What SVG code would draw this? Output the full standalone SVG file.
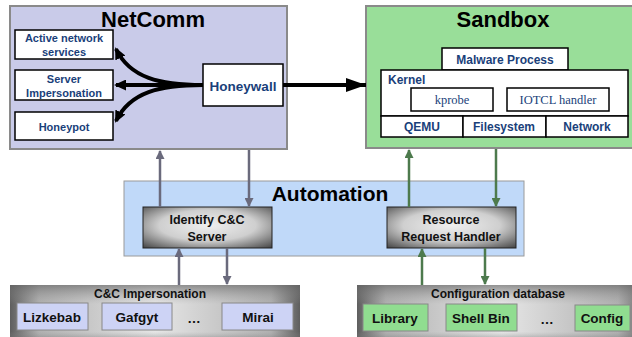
<svg xmlns="http://www.w3.org/2000/svg" width="632" height="337" viewBox="0 0 632 337">
<defs>
<radialGradient id="gbox" cx="0.5" cy="0.45" r="0.75">
<stop offset="0" stop-color="#efefef"/>
<stop offset="0.5" stop-color="#cfcfcf"/>
<stop offset="1" stop-color="#404040"/>
</radialGradient>
<linearGradient id="gpanelH" x1="0" y1="0" x2="1" y2="0">
<stop offset="0" stop-color="#5e5e5e"/>
<stop offset="0.1" stop-color="#b0b0b0"/>
<stop offset="0.5" stop-color="#e6e6e6"/>
<stop offset="0.9" stop-color="#b0b0b0"/>
<stop offset="1" stop-color="#5e5e5e"/>
</linearGradient>
<linearGradient id="gpanelV" x1="0" y1="0" x2="0" y2="1">
<stop offset="0" stop-color="#666" stop-opacity="0.65"/>
<stop offset="0.35" stop-color="#999" stop-opacity="0"/>
<stop offset="0.85" stop-color="#999" stop-opacity="0"/>
<stop offset="1" stop-color="#666" stop-opacity="0.5"/>
</linearGradient>
<marker id="ahB" markerUnits="userSpaceOnUse" markerWidth="12" markerHeight="11" refX="10" refY="5.5" orient="auto">
<path d="M0,0 L12,5.5 L0,11 z" fill="#000"/>
</marker>
<marker id="ahBig" markerUnits="userSpaceOnUse" markerWidth="20" markerHeight="14" refX="20" refY="7" orient="auto">
<path d="M0,0 L20,7 L0,14 z" fill="#000"/>
</marker>
<marker id="ahG" markerUnits="userSpaceOnUse" markerWidth="9" markerHeight="9" refX="8" refY="4.5" orient="auto">
<path d="M0,0 L9,4.5 L0,9 z" fill="#6a6a7c"/>
</marker>
<marker id="ahN" markerUnits="userSpaceOnUse" markerWidth="9" markerHeight="9" refX="8" refY="4.5" orient="auto">
<path d="M0,0 L9,4.5 L0,9 z" fill="#4d7a4d"/>
</marker>
</defs>
<style>
text{font-family:"Liberation Sans",Arial,sans-serif;font-weight:bold;text-anchor:middle}
.title{font-size:22px;fill:#000}
.bt{font-size:11px;fill:#1a3f7a}
.wb{fill:#fff;stroke:#000;stroke-width:1.5}
.serif{font-family:"Liberation Serif","Times New Roman",serif;font-weight:normal;font-size:12.5px;fill:#1a3f7a}
.gbox{fill:url(#gbox);stroke:#222;stroke-width:1}
.gt{font-size:12.5px;fill:#111}
.lav{fill:#cdd3f5;stroke:#888;stroke-width:1}
.grn{fill:#90dd90;stroke:#888;stroke-width:1}
.it{font-size:13.5px;fill:#111}
.pt{font-size:12px;fill:#111}
.gc{stroke:#6a6a7c;stroke-width:2.5;fill:none}
.nc{stroke:#4d7a4d;stroke-width:2.5;fill:none}
.bk{stroke:#000;stroke-width:4;fill:none}
</style>

<g id="netcomm">
<rect x="10" y="6" width="277" height="143" fill="#c9cbe9" stroke="#8a8a8a" stroke-width="2"/>
<text x="153" y="27" class="title">NetComm</text>
</g>
<g id="active">
<rect x="15" y="30" width="98" height="29" class="wb"/>
<text x="64" y="42" class="bt">Active network</text>
<text x="64" y="56" class="bt">services</text>
</g>
<g id="server-imp">
<rect x="15" y="70" width="98" height="30" class="wb"/>
<text x="64" y="83" class="bt">Server</text>
<text x="64" y="97" class="bt">Impersonation</text>
</g>
<g id="honeypot">
<rect x="15" y="112" width="98" height="28" class="wb"/>
<text x="64" y="131" class="bt">Honeypot</text>
</g>
<g id="honeywall">
<rect x="203" y="64" width="80" height="42" class="wb"/>
<text x="243" y="91" class="bt" style="font-size:13.5px">Honeywall</text>
</g>

<g id="sandbox">
<rect x="366" y="6" width="270" height="142" fill="#99de99" stroke="#8a8a8a" stroke-width="2"/>
<text x="503" y="27" class="title">Sandbox</text>
</g>
<g id="malware">
<rect x="442" y="48" width="126" height="22" class="wb"/>
<text x="505" y="64" class="bt" style="font-size:12px">Malware Process</text>
</g>
<g id="kernel">
<rect x="381" y="70" width="247" height="46" class="wb"/>
<text x="388" y="84" class="bt" style="text-anchor:start;font-size:12px">Kernel</text>
</g>
<g id="kprobe">
<rect x="411" y="88" width="82" height="23" class="wb"/>
<text x="452" y="104" class="serif">kprobe</text>
</g>
<g id="ioctl">
<rect x="507" y="88" width="102" height="23" class="wb"/>
<text x="558" y="104" class="serif">IOTCL handler</text>
</g>
<g id="qemu">
<rect x="381" y="116" width="82" height="21" class="wb"/>
<text x="422" y="131" class="bt" style="font-size:12px">QEMU</text>
</g>
<g id="filesystem">
<rect x="463" y="116" width="83" height="21" class="wb"/>
<text x="504" y="131" class="bt" style="font-size:12px">Filesystem</text>
</g>
<g id="network">
<rect x="546" y="116" width="82" height="21" class="wb"/>
<text x="587" y="131" class="bt" style="font-size:12px">Network</text>
</g>

<g id="automation">
<rect x="124" y="181" width="400" height="75" fill="#c0d9f9" stroke="#9a9a9a" stroke-width="1"/>
<text x="330" y="201" class="title" style="font-size:21px">Automation</text>
</g>
<g id="identify">
<rect x="143" y="207" width="129" height="41" class="gbox"/>
<text x="207" y="224" class="gt">Identify C&amp;C</text>
<text x="207" y="241" class="gt">Server</text>
</g>
<g id="resource">
<rect x="387" y="207" width="129" height="41" class="gbox"/>
<text x="451" y="224" class="gt">Resource</text>
<text x="451" y="241" class="gt">Request Handler</text>
</g>

<g id="cc-impersonation">
<rect x="10" y="285" width="290" height="55" fill="url(#gpanelH)"/>
<rect x="10" y="285" width="290" height="55" fill="url(#gpanelV)"/>
<text x="150" y="298" class="pt">C&amp;C Impersonation</text>
</g>
<g id="lizkebab">
<rect x="17" y="303" width="71" height="27" class="lav"/>
<text x="52" y="322" class="it">Lizkebab</text>
</g>
<g id="gafgyt">
<rect x="102" y="303" width="70" height="27" class="lav"/>
<text x="137" y="322" class="it">Gafgyt</text>
</g>
<text x="194" y="323" class="it">…</text>
<g id="mirai">
<rect x="222" y="303" width="71" height="27" class="lav"/>
<text x="258" y="322" class="it">Mirai</text>
</g>

<g id="config-db">
<rect x="357" y="285" width="290" height="55" fill="url(#gpanelH)"/>
<rect x="357" y="285" width="290" height="55" fill="url(#gpanelV)"/>
<text x="498" y="298" class="pt">Configuration database</text>
</g>
<g id="library">
<rect x="363" y="304" width="65" height="27" class="grn"/>
<text x="395" y="323" class="it">Library</text>
</g>
<g id="shellbin">
<rect x="446" y="304" width="71" height="27" class="grn"/>
<text x="481" y="323" class="it">Shell Bin</text>
</g>
<text x="547" y="324" class="it">…</text>
<g id="config">
<rect x="575" y="305" width="55" height="26" class="grn"/>
<text x="602" y="323" class="it">Config</text>
</g>

<g id="connectors">
<path d="M203,85 C160,85 130,78 116,49" class="bk" marker-end="url(#ahB)"/>
<path d="M203,85 L116,85" class="bk" marker-end="url(#ahB)"/>
<path d="M203,85 C160,85 130,92 116,121" class="bk" marker-end="url(#ahB)"/>
<path d="M283,85 L366,85" class="bk" marker-end="url(#ahBig)"/>
<path d="M160,207 L160,151" class="gc" marker-end="url(#ahG)"/>
<path d="M249,150 L249,206" class="gc" marker-end="url(#ahG)"/>
<path d="M179,285 L179,249" class="gc" marker-end="url(#ahG)"/>
<path d="M227,248 L227,284" class="gc" marker-end="url(#ahG)"/>
<path d="M409,207 L409,150" class="nc" marker-end="url(#ahN)"/>
<path d="M496,149 L496,206" class="nc" marker-end="url(#ahN)"/>
<path d="M422,285 L422,249" class="nc" marker-end="url(#ahN)"/>
<path d="M485,248 L485,284" class="nc" marker-end="url(#ahN)"/>
</g>
</svg>
